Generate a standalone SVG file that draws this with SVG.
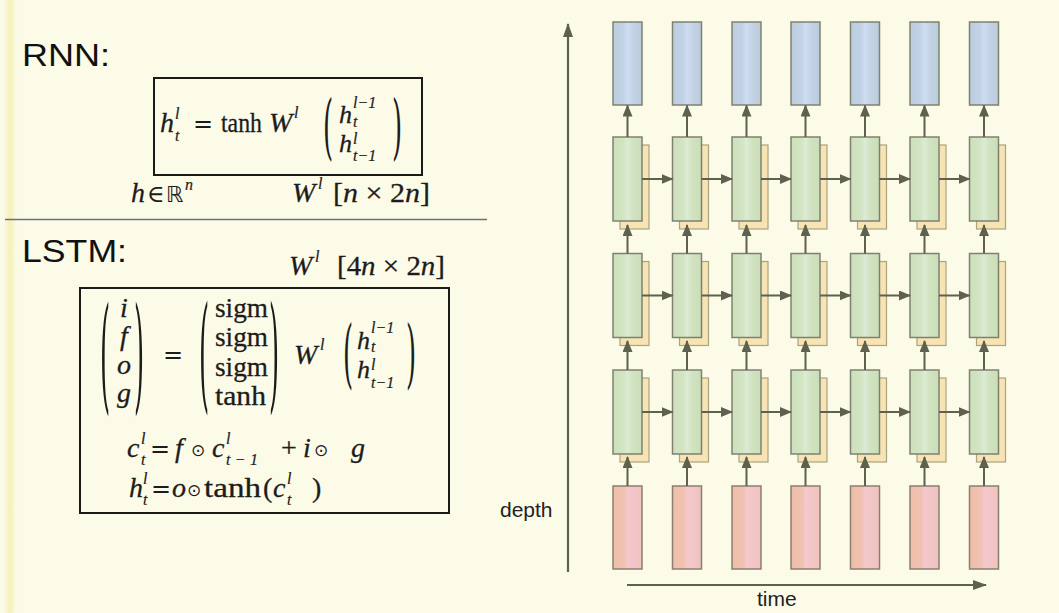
<svg xmlns="http://www.w3.org/2000/svg" width="1059" height="613" viewBox="0 0 1059 613">
  <defs>
    <style>
      .m  { font-family: "Liberation Serif", "DejaVu Serif", serif; font-size: 28px; fill: #1c1c1c; stroke: #1c1c1c; stroke-width: 0.3; }
      .v  { font-size: 26px; }
      .i  { font-style: italic; }
      .s  { font-size: 16px; stroke-width: 0.2; }
      .eq { font-family: "DejaVu Serif", "Liberation Serif", serif; font-size: 24px; fill: #1c1c1c; }
      .op { font-family: "DejaVu Sans", "Liberation Sans", sans-serif; font-size: 17px; fill: #1c1c1c; }
      .bb { font-family: "DejaVu Sans", "Liberation Sans", sans-serif; font-size: 22px; fill: #1c1c1c; }
      .pr { font-family: "DejaVu Serif", "Liberation Serif", serif; font-size: 26px; fill: #1c1c1c; }
      .hd { font-family: "Liberation Sans", Arial, sans-serif; font-size: 32px; fill: #111; }
      .lb { font-family: "Liberation Sans", Arial, sans-serif; font-size: 21px; fill: #222; }
      .frame { fill: none; stroke: #1a1a1a; stroke-width: 2; }
      .bl { fill: url(#gBlue);  stroke: #7d8270; stroke-width: 1.5; }
      .gr { fill: url(#gGreen); stroke: #7d8270; stroke-width: 1.5; }
      .ye { fill: #f7e3b3;      stroke: #a9a37f; stroke-width: 1.2; }
      .rd { fill: url(#gRed);   stroke: #8a7f70; stroke-width: 1.5; }
      .cn { fill: none; stroke: #5d614d; stroke-width: 2; marker-end: url(#ah); }
      .ax { fill: none; stroke: #5d614d; stroke-width: 2.2; marker-end: url(#ahBig); }
    </style>
    <linearGradient id="gBlue" x1="0" y1="0" x2="1" y2="0">
      <stop offset="0" stop-color="#bccde0"/>
      <stop offset="0.35" stop-color="#c2d2e5"/>
      <stop offset="0.5" stop-color="#cfdcf3"/>
      <stop offset="0.7" stop-color="#c3d3e4"/>
      <stop offset="1" stop-color="#bacbdc"/>
    </linearGradient>
    <linearGradient id="gGreen" x1="0" y1="0" x2="1" y2="0">
      <stop offset="0" stop-color="#cde0bb"/>
      <stop offset="0.35" stop-color="#d2e4c2"/>
      <stop offset="0.5" stop-color="#dcebd4"/>
      <stop offset="0.7" stop-color="#d0e2bf"/>
      <stop offset="1" stop-color="#cbdeb8"/>
    </linearGradient>
    <linearGradient id="gRed" x1="0" y1="0" x2="1" y2="0">
      <stop offset="0" stop-color="#efbea9"/>
      <stop offset="0.4" stop-color="#f1c2b2"/>
      <stop offset="0.5" stop-color="#f4c8cd"/>
      <stop offset="1" stop-color="#f0c3c0"/>
    </linearGradient>
    <linearGradient id="gStrip" x1="0" y1="0" x2="1" y2="0">
      <stop offset="0" stop-color="#f5f0b8" stop-opacity="0"/>
      <stop offset="0.5" stop-color="#f5f0b8"/>
      <stop offset="1" stop-color="#f5f0b8" stop-opacity="0"/>
    </linearGradient>
    <marker id="ah" viewBox="0 0 12 10" refX="11" refY="5" markerWidth="12" markerHeight="10" orient="auto" markerUnits="userSpaceOnUse">
      <path d="M0,0 L12,5 L0,10 z" fill="#5d614d"/>
    </marker>
    <marker id="ahBig" viewBox="0 0 14 10" refX="13" refY="5" markerWidth="14" markerHeight="10" orient="auto" markerUnits="userSpaceOnUse">
      <path d="M0,0 L14,5 L0,10 z" fill="#5d614d"/>
    </marker>
  </defs>

  <!-- slide background -->
  <rect width="1059" height="613" fill="#fcfbe8"/>
  <rect x="3" y="0" width="14" height="613" fill="url(#gStrip)"/>

  <!-- ============ left: equations ============ -->
  <g id="rnn-section">
    <text class="hd" x="22" y="66" textLength="88" lengthAdjust="spacingAndGlyphs">RNN:</text>
    <rect class="frame" x="154" y="78" width="268" height="97"/>
    <!-- h_t^l = tanh W^l (h_t^{l-1}; h_{t-1}^l) -->
    <text class="m i" x="160" y="132">h</text>
    <text class="m s i" x="175" y="119">l</text>
    <text class="m s i" x="175" y="141">t</text>
    <text class="eq" x="193" y="132">=</text>
    <text class="m" x="221" y="132" textLength="41" lengthAdjust="spacingAndGlyphs">tanh</text>
    <text class="m i" x="269" y="132">W</text>
    <text class="m s i" x="294" y="118">l</text>
    <text class="pr" transform="translate(323,150.8) scale(1,2.72)">(</text>
    <text class="m v i" x="339" y="123">h</text>
    <text class="m s i" x="353" y="108">l−1</text>
    <text class="m s i" x="353" y="127">t</text>
    <text class="m v i" x="339" y="152">h</text>
    <text class="m s i" x="353" y="144">l</text>
    <text class="m s i" x="353" y="161">t−1</text>
    <text class="pr" transform="translate(392,150.8) scale(1,2.72)">)</text>
    <!-- dimensions -->
    <text class="m i" x="131" y="202">h</text>
    <text class="eq" x="147" y="202">∈</text>
    <text class="bb" x="166" y="202">ℝ</text>
    <text class="m s i" x="185" y="190">n</text>
    <text class="m i" x="292" y="202">W</text>
    <text class="m s i" x="318" y="189">l</text>
    <text class="m" x="333" y="202" textLength="97" lengthAdjust="spacingAndGlyphs">[<tspan class="i">n</tspan> × 2<tspan class="i">n</tspan>]</text>
  </g>

  <line x1="5" y1="219.5" x2="487" y2="219.5" stroke="#6b6f7c" stroke-width="1.6"/>

  <g id="lstm-section">
    <text class="hd" x="22" y="262" textLength="105" lengthAdjust="spacingAndGlyphs">LSTM:</text>
    <text class="m i" x="289" y="275">W</text>
    <text class="m s i" x="315" y="262">l</text>
    <text class="m" x="337" y="275" textLength="108" lengthAdjust="spacingAndGlyphs">[4<tspan class="i">n</tspan> × 2<tspan class="i">n</tspan>]</text>
    <rect class="frame" x="80" y="288" width="369" height="225"/>

    <!-- gate vector -->
    <text class="pr" transform="translate(100,396.8) scale(1,4.8)">(</text>
    <text class="m i" x="124" y="317" text-anchor="middle">i</text>
    <text class="m i" x="124" y="345" text-anchor="middle">f</text>
    <text class="m i" x="124" y="374" text-anchor="middle">o</text>
    <text class="m i" x="124" y="402" text-anchor="middle">g</text>
    <text class="pr" transform="translate(134,396.8) scale(1,4.8)">)</text>
    <text class="eq" x="163" y="363">=</text>

    <!-- activations -->
    <text class="pr" transform="translate(199,395.6) scale(1,4.84)">(</text>
    <text class="m" x="215" y="317" textLength="53" lengthAdjust="spacingAndGlyphs">sigm</text>
    <text class="m" x="215" y="346" textLength="53" lengthAdjust="spacingAndGlyphs">sigm</text>
    <text class="m" x="215" y="376" textLength="53" lengthAdjust="spacingAndGlyphs">sigm</text>
    <text class="m" x="215" y="405" textLength="51" lengthAdjust="spacingAndGlyphs">tanh</text>
    <text class="pr" transform="translate(269,395.6) scale(1,4.84)">)</text>

    <text class="m i" x="294" y="364">W</text>
    <text class="m s i" x="320" y="350">l</text>
    <text class="pr" transform="translate(343,379.3) scale(1,2.85)">(</text>
    <text class="m v i" x="357" y="349">h</text>
    <text class="m s i" x="371" y="333">l−1</text>
    <text class="m s i" x="371" y="352">t</text>
    <text class="m s i" x="371" y="370">l</text>
    <text class="m v i" x="357" y="378">h</text>
    <text class="m s i" x="371" y="388">t−1</text>
    <text class="pr" transform="translate(406,379.3) scale(1,2.85)">)</text>

    <!-- cell update -->
    <text class="m i" x="127" y="457">c</text>
    <text class="m s i" x="141" y="444">l</text>
    <text class="m s i" x="141" y="465">t</text>
    <text class="eq" x="150" y="457">=</text>
    <text class="m i" x="175" y="457">f</text>
    <text class="op" x="191" y="456">⊙</text>
    <text class="m i" x="212" y="457">c</text>
    <text class="m s i" x="226" y="444">l</text>
    <text class="m s i" x="226" y="465" textLength="32" lengthAdjust="spacing">t−1</text>
    <text class="m" x="281" y="457">+</text>
    <text class="m i" x="303" y="457">i</text>
    <text class="op" x="314" y="456">⊙</text>
    <text class="m i" x="351" y="457">g</text>

    <!-- hidden state -->
    <text class="m i" x="129" y="497">h</text>
    <text class="m s i" x="143" y="484">l</text>
    <text class="m s i" x="143" y="505">t</text>
    <text class="eq" x="151" y="497">=</text>
    <text class="m i" x="172" y="497">o</text>
    <text class="op" x="187" y="496">⊙</text>
    <text class="m" x="204" y="497" textLength="57" lengthAdjust="spacingAndGlyphs">tanh</text>
    <text class="m" x="263" y="497">(</text>
    <text class="m i" x="273" y="497">c</text>
    <text class="m s i" x="287" y="484">l</text>
    <text class="m s i" x="287" y="505">t</text>
    <text class="m" x="312" y="497">)</text>
  </g>

  <!-- ============ right: unrolled network ============ -->
  <g id="axis-depth">
    <path class="ax" d="M568,572 V24"/>
    <text class="lb" x="500" y="517">depth</text>
  </g>
  <g id="axis-time">
    <path class="ax" d="M627,585 H986"/>
    <text class="lb" x="757" y="606">time</text>
  </g>

  <!-- outputs -->
  <g id="out-1"><rect class="bl" x="613"   y="22" width="29" height="83"/></g>
  <g id="out-2"><rect class="bl" x="672.5" y="22" width="29" height="83"/></g>
  <g id="out-3"><rect class="bl" x="732"   y="22" width="29" height="83"/></g>
  <g id="out-4"><rect class="bl" x="791"   y="22" width="29" height="83"/></g>
  <g id="out-5"><rect class="bl" x="850.5" y="22" width="29" height="83"/></g>
  <g id="out-6"><rect class="bl" x="910"   y="22" width="29" height="83"/></g>
  <g id="out-7"><rect class="bl" x="969.5" y="22" width="29" height="83"/></g>

  <!-- layer 1 (top hidden layer) -->
  <g id="l1-1"><rect class="ye" x="620"   y="145" width="29" height="84"/><rect class="gr" x="613"   y="137" width="29" height="84"/></g>
  <g id="l1-2"><rect class="ye" x="679.5" y="145" width="29" height="84"/><rect class="gr" x="672.5" y="137" width="29" height="84"/></g>
  <g id="l1-3"><rect class="ye" x="739"   y="145" width="29" height="84"/><rect class="gr" x="732"   y="137" width="29" height="84"/></g>
  <g id="l1-4"><rect class="ye" x="798"   y="145" width="29" height="84"/><rect class="gr" x="791"   y="137" width="29" height="84"/></g>
  <g id="l1-5"><rect class="ye" x="857.5" y="145" width="29" height="84"/><rect class="gr" x="850.5" y="137" width="29" height="84"/></g>
  <g id="l1-6"><rect class="ye" x="917"   y="145" width="29" height="84"/><rect class="gr" x="910"   y="137" width="29" height="84"/></g>
  <g id="l1-7"><rect class="ye" x="976.5" y="145" width="29" height="84"/><rect class="gr" x="969.5" y="137" width="29" height="84"/></g>

  <!-- layer 2 -->
  <g id="l2-1"><rect class="ye" x="620"   y="261.5" width="29" height="84"/><rect class="gr" x="613"   y="253.5" width="29" height="84"/></g>
  <g id="l2-2"><rect class="ye" x="679.5" y="261.5" width="29" height="84"/><rect class="gr" x="672.5" y="253.5" width="29" height="84"/></g>
  <g id="l2-3"><rect class="ye" x="739"   y="261.5" width="29" height="84"/><rect class="gr" x="732"   y="253.5" width="29" height="84"/></g>
  <g id="l2-4"><rect class="ye" x="798"   y="261.5" width="29" height="84"/><rect class="gr" x="791"   y="253.5" width="29" height="84"/></g>
  <g id="l2-5"><rect class="ye" x="857.5" y="261.5" width="29" height="84"/><rect class="gr" x="850.5" y="253.5" width="29" height="84"/></g>
  <g id="l2-6"><rect class="ye" x="917"   y="261.5" width="29" height="84"/><rect class="gr" x="910"   y="253.5" width="29" height="84"/></g>
  <g id="l2-7"><rect class="ye" x="976.5" y="261.5" width="29" height="84"/><rect class="gr" x="969.5" y="253.5" width="29" height="84"/></g>

  <!-- layer 3 (bottom hidden layer) -->
  <g id="l3-1"><rect class="ye" x="620"   y="378" width="29" height="84"/><rect class="gr" x="613"   y="370" width="29" height="84"/></g>
  <g id="l3-2"><rect class="ye" x="679.5" y="378" width="29" height="84"/><rect class="gr" x="672.5" y="370" width="29" height="84"/></g>
  <g id="l3-3"><rect class="ye" x="739"   y="378" width="29" height="84"/><rect class="gr" x="732"   y="370" width="29" height="84"/></g>
  <g id="l3-4"><rect class="ye" x="798"   y="378" width="29" height="84"/><rect class="gr" x="791"   y="370" width="29" height="84"/></g>
  <g id="l3-5"><rect class="ye" x="857.5" y="378" width="29" height="84"/><rect class="gr" x="850.5" y="370" width="29" height="84"/></g>
  <g id="l3-6"><rect class="ye" x="917"   y="378" width="29" height="84"/><rect class="gr" x="910"   y="370" width="29" height="84"/></g>
  <g id="l3-7"><rect class="ye" x="976.5" y="378" width="29" height="84"/><rect class="gr" x="969.5" y="370" width="29" height="84"/></g>

  <!-- inputs -->
  <g id="in-1"><rect class="rd" x="613"   y="486" width="29" height="83"/></g>
  <g id="in-2"><rect class="rd" x="672.5" y="486" width="29" height="83"/></g>
  <g id="in-3"><rect class="rd" x="732"   y="486" width="29" height="83"/></g>
  <g id="in-4"><rect class="rd" x="791"   y="486" width="29" height="83"/></g>
  <g id="in-5"><rect class="rd" x="850.5" y="486" width="29" height="83"/></g>
  <g id="in-6"><rect class="rd" x="910"   y="486" width="29" height="83"/></g>
  <g id="in-7"><rect class="rd" x="969.5" y="486" width="29" height="83"/></g>

  <!-- connectors: depth (upward) and time (rightward) -->
  <g id="connectors">
    <path class="cn" d="M627.5,486 V457"/><path class="cn" d="M627.5,370 V341"/><path class="cn" d="M627.5,253.5 V225"/><path class="cn" d="M627.5,137 V105.5"/>
    <path class="cn" d="M687,486 V457"/><path class="cn" d="M687,370 V341"/><path class="cn" d="M687,253.5 V225"/><path class="cn" d="M687,137 V105.5"/>
    <path class="cn" d="M746.5,486 V457"/><path class="cn" d="M746.5,370 V341"/><path class="cn" d="M746.5,253.5 V225"/><path class="cn" d="M746.5,137 V105.5"/>
    <path class="cn" d="M805.5,486 V457"/><path class="cn" d="M805.5,370 V341"/><path class="cn" d="M805.5,253.5 V225"/><path class="cn" d="M805.5,137 V105.5"/>
    <path class="cn" d="M865,486 V457"/><path class="cn" d="M865,370 V341"/><path class="cn" d="M865,253.5 V225"/><path class="cn" d="M865,137 V105.5"/>
    <path class="cn" d="M924.5,486 V457"/><path class="cn" d="M924.5,370 V341"/><path class="cn" d="M924.5,253.5 V225"/><path class="cn" d="M924.5,137 V105.5"/>
    <path class="cn" d="M984,486 V457"/><path class="cn" d="M984,370 V341"/><path class="cn" d="M984,253.5 V225"/><path class="cn" d="M984,137 V105.5"/>

    <path class="cn" d="M642,179 H672.5"/><path class="cn" d="M701.5,179 H732"/><path class="cn" d="M761,179 H791"/><path class="cn" d="M820,179 H850.5"/><path class="cn" d="M879.5,179 H910"/><path class="cn" d="M939,179 H969.5"/>
    <path class="cn" d="M642,295.5 H672.5"/><path class="cn" d="M701.5,295.5 H732"/><path class="cn" d="M761,295.5 H791"/><path class="cn" d="M820,295.5 H850.5"/><path class="cn" d="M879.5,295.5 H910"/><path class="cn" d="M939,295.5 H969.5"/>
    <path class="cn" d="M642,412 H672.5"/><path class="cn" d="M701.5,412 H732"/><path class="cn" d="M761,412 H791"/><path class="cn" d="M820,412 H850.5"/><path class="cn" d="M879.5,412 H910"/><path class="cn" d="M939,412 H969.5"/>
  </g>
</svg>
